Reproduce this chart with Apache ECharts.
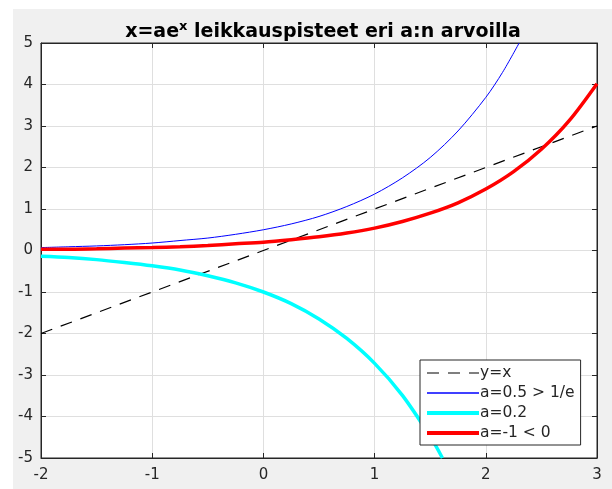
<!DOCTYPE html>
<html>
<head>
<meta charset="utf-8">
<script src="https://cdn.jsdelivr.net/npm/echarts@6/dist/echarts.min.js"></script>
<style>
html,body{margin:0;padding:0;background:#fff;}
#main{width:612px;height:489px;}
</style>
</head>
<body>
<div id="main"></div>
<script>
// values
var xTicks = [-2, -1, 0, 1, 2, 3];
var yTicks = [-5, -4, -3, -2, -1, 0, 1, 2, 3, 4, 5];
var legendNames = ['y=x', 'a=0.5 > 1/e', 'a=0.2', 'a=-1 < 0'];
var legendWidths = [1.2, 1.5, 4, 4];

var lineYX = [[-2, -2], [3, 3]];
var blueLine = [
	[-2, 0.07], [-1.75, 0.09], [-1.5, 0.11], [-1.25, 0.14], [-1, 0.18], [-0.75, 0.24],
	[-0.5, 0.30], [-0.25, 0.39], [0, 0.50], [0.25, 0.64], [0.5, 0.82], [0.75, 1.06],
	[1, 1.36], [1.25, 1.75], [1.5, 2.24], [1.75, 2.88], [2, 3.69], [2.15, 4.29], [2.3, 5.0]
];
var cyanLine = [
	[-2, -0.14], [-1.75, -0.17], [-1.5, -0.22], [-1.25, -0.29], [-1, -0.37], [-0.75, -0.47],
	[-0.5, -0.61], [-0.25, -0.78], [0, -1.0], [0.25, -1.28], [0.5, -1.65], [0.75, -2.12],
	[1, -2.72], [1.25, -3.49], [1.5, -4.48], [1.61, -5.0]
];
var redLine = [
	[-2, 0.03], [-1.75, 0.03], [-1.5, 0.04], [-1.25, 0.06], [-1, 0.07], [-0.75, 0.09],
	[-0.5, 0.12], [-0.25, 0.16], [0, 0.20], [0.25, 0.26], [0.5, 0.33], [0.75, 0.42],
	[1, 0.54], [1.25, 0.70], [1.5, 0.90], [1.75, 1.15], [2, 1.48], [2.25, 1.90],
	[2.5, 2.44], [2.75, 3.13], [3, 4.02]
];

var axisColor = '#262626';
var fontFam = 'DejaVu Sans';

function makeXAxis(pos, showLabel) {
	return {
		type: 'value', position: pos, min: -2, max: 3, interval: 1,
		axisLine: {show: true, onZero: false, lineStyle: {color: axisColor, width: 1}},
		axisTick: {show: true, inside: true, length: 5, lineStyle: {color: axisColor}},
		axisLabel: {show: showLabel, color: axisColor, fontSize: 15, fontFamily: fontFam, margin: 10,
			formatter: function (v) { return xTicks.indexOf(v) >= 0 ? String(v) : ''; }},
		splitLine: {show: showLabel, lineStyle: {color: '#dfdfdf', width: 1}}
	};
}
function makeYAxis(pos, showLabel) {
	return {
		type: 'value', position: pos, min: -5, max: 5, interval: 1,
		axisLine: {show: true, onZero: false, lineStyle: {color: axisColor, width: 1}},
		axisTick: {show: true, inside: true, length: 5, lineStyle: {color: axisColor}},
		axisLabel: {show: showLabel, color: axisColor, fontSize: 15, fontFamily: fontFam, margin: 8,
			formatter: function (v) { return yTicks.indexOf(v) >= 0 ? String(v) : ''; }},
		splitLine: {show: showLabel, lineStyle: {color: '#dfdfdf', width: 1}}
	};
}

var legendData = legendNames.map(function (n, i) {
	return {name: n, lineStyle: {width: legendWidths[i]}};
});

var myChart = echarts.init(document.getElementById('main'));
var option = {
	backgroundColor: '#fff',
	animation: false,
	graphic: [{
		type: 'rect', z: -10, silent: true,
		shape: {x: 13, y: 9, width: 599, height: 480},
		style: {fill: '#f0f0f0'}
	}],
	title: {
		text: 'x=ae{sup|x} leikkauspisteet eri a:n arvoilla',
		left: 318, top: 15, textAlign: 'center',
		textStyle: {
			fontSize: 19, fontWeight: 'bold', color: '#000', fontFamily: fontFam,
			rich: {sup: {fontSize: 13, fontWeight: 'bold', fontFamily: fontFam, color: '#000', padding: [0, 0, 11, 0]}}
		}
	},
	grid: {
		left: 41, right: 15, top: 43, bottom: 31,
		containLabel: false, outerBoundsMode: 'none',
		show: true, backgroundColor: '#fff', borderWidth: 1, borderColor: axisColor
	},
	legend: {
		data: legendData,
		orient: 'vertical', left: 420, top: 360,
		padding: [5, 6, 4, 5], itemGap: 4, itemWidth: 52, itemHeight: 16,
		backgroundColor: '#fff', borderColor: axisColor, borderWidth: 1, borderRadius: 0,
		itemStyle: {opacity: 0},
		textStyle: {fontSize: 15.5, lineHeight: 16, color: axisColor, fontFamily: fontFam, padding: [0, 0, 0, -4]},
		selectedMode: false
	},
	xAxis: [makeXAxis('bottom', true), makeXAxis('top', false)],
	yAxis: [makeYAxis('left', true), makeYAxis('right', false)],
	series: [
		{name: 'y=x', type: 'line', data: lineYX, showSymbol: false, symbol: 'none',
			lineStyle: {color: '#000', width: 1.2, type: [12, 9]}, itemStyle: {color: '#000'}},
		{name: 'a=0.5 > 1/e', type: 'line', data: blueLine, smooth: 0.3, showSymbol: false, symbol: 'none',
			lineStyle: {color: '#0000ff', width: 1}, itemStyle: {color: '#0000ff'}},
		{name: 'a=0.2', type: 'line', data: cyanLine, smooth: 0.3, showSymbol: false, symbol: 'none',
			lineStyle: {color: '#00ffff', width: 3.5}, itemStyle: {color: '#00ffff'}},
		{name: 'a=-1 < 0', type: 'line', data: redLine, smooth: 0.3, showSymbol: false, symbol: 'none',
			lineStyle: {color: '#ff0000', width: 3.5}, itemStyle: {color: '#ff0000'}}
	]
};
myChart.setOption(option, true);
</script>
</body>
</html>
